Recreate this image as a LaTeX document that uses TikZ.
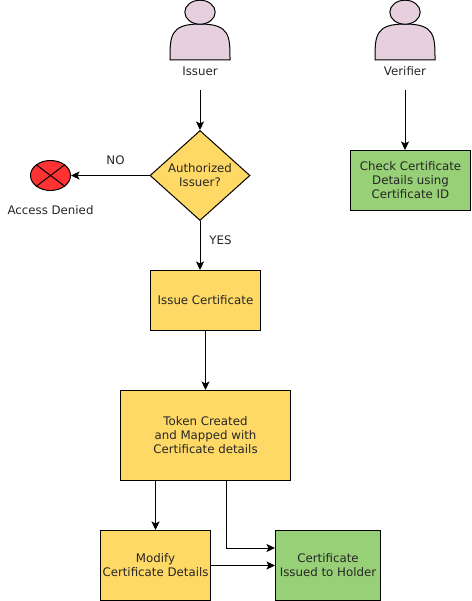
\documentclass[tikz,border=0pt]{standalone}
\usepackage{fontspec}
\setmainfont{DejaVu Sans}
\usetikzlibrary{arrows.meta,shapes.geometric}
\definecolor{boxyellow}{HTML}{FFD966}
\definecolor{boxgreen}{HTML}{97D077}
\definecolor{actorpink}{HTML}{E6D0DE}
\definecolor{denyred}{HTML}{FF3333}
\tikzset{
	every node/.style={font=\fontsize{11.8}{14}\selectfont,text=black!85,align=center,inner sep=0pt},
	flowbox/.style={draw,line width=1pt,fill=#1,anchor=north west},
	flowarrow/.style={-{Stealth[length=8.5pt,width=8pt,inset=2pt]},line width=1pt},
	useractor/.pic={
		\draw[line width=1pt,fill=actorpink] (-30,60) .. controls (-30,36) and (-30,24) .. (0,24) .. controls (30,24) and (30,36) .. (30,60) -- cycle;
		\draw[line width=1pt,fill=actorpink] (0,12.2) ellipse [x radius=15.2,y radius=12];
	}
}
\begin{document}
\begin{tikzpicture}[x=1pt,y=-1pt]
	\useasboundingbox (0,0) rectangle (471,601);
	\pic at (200,0) {useractor};
	\pic at (405,0) {useractor};
	\node (issuer) at (200,71) {Issuer};
	\node (verifier) at (405,71) {Verifier};
	\coordinate (issuerout) at (200,90);
	\coordinate (verifierout) at (405,90);
	\node[draw,line width=1pt,fill=boxyellow,diamond,aspect=1.11,minimum width=100pt,minimum height=90pt] (authorized) at (200,175.5) {};
	\node (authorizedtext) at (200,175.5) {Authorized\\Issuer?};
	\node[draw,line width=1pt,fill=denyred,ellipse,minimum width=40pt,minimum height=30pt] (denied) at (50.5,175.5) {};
	\draw[line width=1pt] (denied.north west) -- (denied.south east);
	\draw[line width=1pt] (denied.north east) -- (denied.south west);
	\node (deniedtext) at (50.5,210.5) {Access Denied};
	\node (no) at (115.5,160.5) {NO};
	\node (yes) at (220.5,240.5) {YES};
	\node[flowbox=boxgreen,minimum width=120pt,minimum height=60pt] (check) at (350,150) {Check Certificate\\Details using\\Certificate ID};
	\node[flowbox=boxyellow,minimum width=110pt,minimum height=60pt] (issue) at (150,270) {Issue Certificate};
	\node[flowbox=boxyellow,minimum width=170pt,minimum height=90pt] (token) at (120,390) {Token Created\\and Mapped with\\Certificate details};
	\node[flowbox=boxyellow,minimum width=110pt,minimum height=70pt] (modify) at (100,530) {Modify\\Certificate Details};
	\node[flowbox=boxgreen,minimum width=105pt,minimum height=70pt] (holder) at (275,530) {Certificate\\Issued to Holder};
	\coordinate (tokenout) at (226.5,480);
	\coordinate (holderin) at (275,548);
	\draw[flowarrow] (issuerout) -- (authorized.north);
	\draw[flowarrow] (verifierout) -- (verifierout |- check.north);
	\draw[flowarrow] (authorized.west) -- (denied.east);
	\draw[flowarrow] (authorized.south) -- (authorized.south |- issue.north);
	\draw[flowarrow] (issue.south) -- (token.north);
	\draw[flowarrow] (modify.north |- token.south) -- (modify.north);
	\draw[flowarrow] (tokenout) |- (holderin);
	\draw[flowarrow] (modify.east) -- (holder.west);
\end{tikzpicture}
\end{document}
